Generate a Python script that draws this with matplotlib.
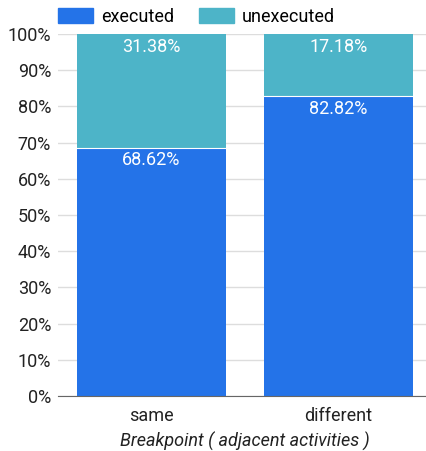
import matplotlib.pyplot as plt
import matplotlib.patches as mpatches

plt.rcParams['font.family'] = ['Roboto', 'DejaVu Sans']

categories = ['same', 'different']
executed = [68.62, 82.82]
unexecuted = [31.38, 17.18]

blue = '#2473e8'
teal = '#4db4c8'

fig = plt.figure(figsize=(4.27, 4.51), dpi=100)
ax = fig.add_axes([58/427, 1 - 396/451, 374/427, 362/451])

x = range(len(categories))
ax.bar(x, executed, width=0.8, color=blue, zorder=2)
ax.bar(x, unexecuted, width=0.8, bottom=executed, color=teal, zorder=2)

# thin white separator between segments
for i in x:
    ax.plot([i - 0.4, i + 0.4], [executed[i], executed[i]], color='white', lw=0.8, zorder=3)

for i in x:
    ax.text(i, 100 - 1.0, f'{unexecuted[i]:.2f}%', ha='center', va='top',
            color='white', fontsize=13, zorder=4)
    ax.text(i, executed[i] - 1.0, f'{executed[i]:.2f}%', ha='center', va='top',
            color='white', fontsize=13, zorder=4)

ax.set_xlim(-0.5, 1.5)
ax.set_ylim(0, 100)
ax.set_yticks(range(0, 101, 10))
ax.set_yticklabels([f'{v}%' for v in range(0, 101, 10)], fontsize=13, color='#222222')
ax.set_xticks(list(x))
ax.set_xticklabels(categories, fontsize=13, color='#222222')
ax.tick_params(axis='both', length=0, pad=5)
ax.tick_params(axis='x', pad=8)
ax.grid(axis='y', color='#dddddd', lw=1, zorder=0)
for s in ['top', 'right', 'left']:
    ax.spines[s].set_visible(False)
ax.spines['bottom'].set_color('#666666')
ax.spines['bottom'].set_zorder(5)
ax.set_xlabel('Breakpoint ( adjacent activities )', fontsize=13, style='italic',
              color='#222222', labelpad=5)

handles = [mpatches.Patch(color=blue, label='executed'),
           mpatches.Patch(color=teal, label='unexecuted')]
fig.legend(handles=handles, loc='center left', bbox_to_anchor=(51/427, 1 - 17/451),
           ncol=2, frameon=False, fontsize=13, handlelength=1.95, handleheight=0.9,
           handletextpad=0.4, columnspacing=1.4, borderaxespad=0)

fig.savefig('out.png', dpi=100)
